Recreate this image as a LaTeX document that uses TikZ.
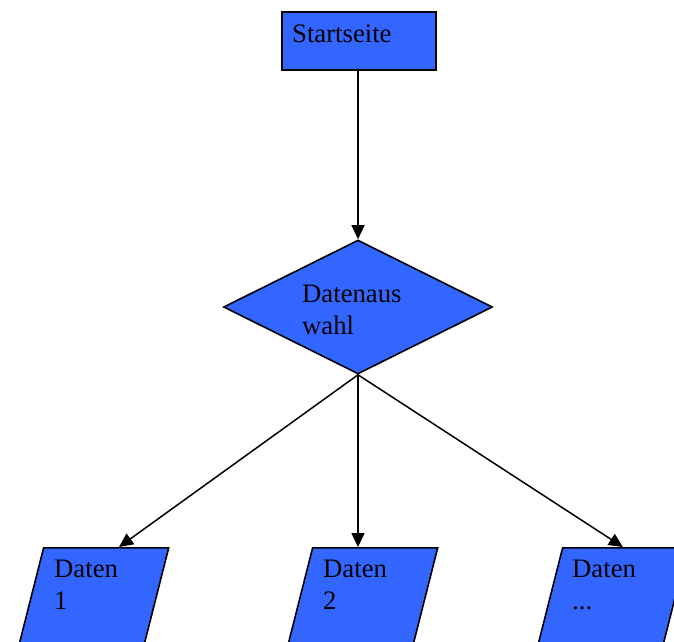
\documentclass[tikz,border=0pt]{standalone}
\usepackage{fontspec}
\setmainfont{Liberation Serif}
\usetikzlibrary{arrows.meta,shapes.geometric,calc}

\definecolor{flowblue}{RGB}{51,102,255}

\tikzset{
  startbox/.style = {draw, fill=flowblue, line width=1.6pt, inner sep=0pt,
                     minimum width=154pt, minimum height=58pt},
  choice/.style   = {diamond, draw, fill=flowblue, line width=1.6pt, inner sep=0pt,
                     minimum width=269pt, minimum height=134pt},
  datain/.style   = {trapezium, draw, fill=flowblue, line width=1.6pt, inner sep=2pt,
                     trapezium left angle=74, trapezium right angle=106,
                     trapezium stretches=true,
                     minimum width=153pt, minimum height=110pt},
  lbl/.style      = {inner sep=0pt, align=left,
                     font=\fontsize{26.7pt}{32pt}\selectfont},
  flow/.style     = {line width=1.5pt, -{Triangle[length=14pt,width=13pt]}}
}

\begin{document}
\begin{tikzpicture}[x=1pt, y=-1pt]

\useasboundingbox (0,0) rectangle (674,641);
\clip (0,0) rectangle (674,641);

% start page
\node[startbox, anchor=north west] at (281,11) (start) {};
\node[lbl, anchor=base west] at (292,42) (tStart) {Startseite};

% selection
\node[choice] at (358,307) (sel) {};
\node[lbl, anchor=north west] at (302,285.3) (tSel) {Datenaus\\wahl};

% data
\node[datain, anchor=top left corner] at (43,547)  (d1) {};
\node[lbl, anchor=north west] at (54,560.3)  (tD1) {Daten\\1};
\node[datain, anchor=top left corner] at (312,547) (d2) {};
\node[lbl, anchor=north west] at (323,560.3) (tD2) {Daten\\2};
\node[datain, anchor=top left corner] at (562,547) (d3) {};
\node[lbl, anchor=north west] at (572,560.3) (tD3) {Daten\\...};

\draw[flow] (sel.north |- start.south) -- (sel.north);
\draw[flow] (sel.south) -- ($(d1.top left corner)!0.6!(d1.top right corner)$);
\draw[flow] (sel.south) -- (sel.south |- d2.top side);
\draw[flow] (sel.south) -- ($(d3.top left corner)!0.48!(d3.top right corner)$);

\end{tikzpicture}
\end{document}
